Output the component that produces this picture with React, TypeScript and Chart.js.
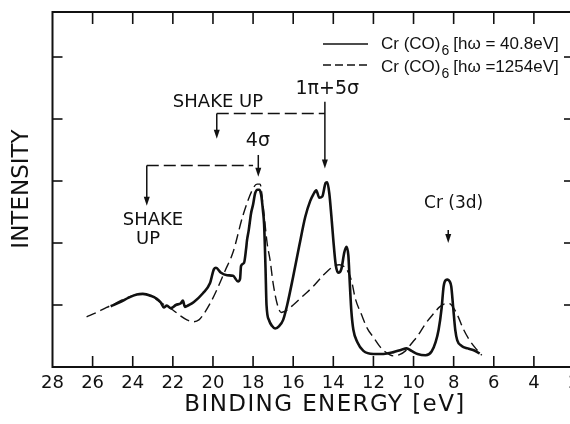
import React, { useEffect, useRef } from "react";
import { Chart, registerables } from "chart.js";

Chart.register(...registerables);

// Binding energy (eV) and intensity (in y-tick units)
const solidEnergy = [
  25.1, 24.6, 24.2, 23.8, 23.5, 23.1, 22.8, 22.6, 22.45, 22.3, 22.1, 21.85, 21.6, 21.5, 21.4, 21.2,
  20.95, 20.5, 20.15, 19.95, 19.85, 19.6, 19.3, 19.0, 18.75, 18.65, 18.6, 18.45, 18.35, 18.3, 18.22,
  18.1, 18.0, 17.9, 17.78, 17.68, 17.6, 17.5, 17.45, 17.38, 17.33, 17.2, 17.05, 16.9, 16.7, 16.5,
  16.3, 16.0, 15.7, 15.4, 15.15, 15.0, 14.85, 14.7, 14.55, 14.38, 14.3, 14.2, 14.1, 14.0, 13.88,
  13.75, 13.6, 13.45, 13.35, 13.25, 13.17, 13.1, 13.0, 12.8, 12.5, 12.0, 11.5, 11.0, 10.6, 10.35,
  10.1, 9.8, 9.4, 9.1, 8.9, 8.75, 8.6, 8.5, 8.4, 8.3, 8.2, 8.12, 8.02, 7.92, 7.82, 7.6, 7.3, 7.0, 6.7,
];
const solidIntensity = [
  0.98, 1.05, 1.12, 1.17, 1.18, 1.15, 1.1, 1.04, 0.96, 0.99, 0.95, 1.0, 1.03, 1.07, 0.97, 1.0,
  1.05, 1.19, 1.35, 1.58, 1.6, 1.52, 1.48, 1.47, 1.38, 1.42, 1.63, 1.68, 1.9, 2.05, 2.2,
  2.48, 2.62, 2.8, 2.86, 2.86, 2.78, 2.5, 2.3, 1.6, 1.0, 0.75, 0.66, 0.62, 0.66, 0.76,
  1.0, 1.46, 1.95, 2.42, 2.68, 2.78, 2.85, 2.73, 2.75, 2.97, 2.98, 2.8, 2.45, 2.05, 1.65,
  1.52, 1.58, 1.85, 1.94, 1.8, 1.3, 0.9, 0.6, 0.4, 0.26, 0.21, 0.21, 0.24, 0.28, 0.3,
  0.26, 0.21, 0.19, 0.25, 0.4, 0.6, 0.95, 1.3, 1.4, 1.41, 1.38, 1.3, 0.95, 0.6, 0.43, 0.34, 0.3, 0.27, 0.22,
];

const dashedEnergy = [
  26.3, 25.8, 25.3, 24.9, 24.4, 23.9, 23.5, 23.1, 22.7, 22.3, 22.0, 21.6, 21.3, 21.0, 20.7, 20.45,
  20.1, 19.8, 19.4, 19.0, 18.5, 18.0, 17.8, 17.65, 17.5, 17.3, 17.15, 17.0, 16.8, 16.6, 16.4, 16.0,
  15.5, 15.0, 14.5, 14.0, 13.7, 13.35, 13.1, 12.9, 12.6, 12.3, 12.0, 11.6, 11.2, 11.0, 10.7, 10.4,
  10.1, 9.8, 9.4, 9.0, 8.7, 8.4, 8.2, 8.0, 7.8, 7.5, 7.2, 6.9, 6.6,
];
const dashedIntensity = [
  0.81, 0.88, 0.96, 1.02, 1.1, 1.16, 1.18, 1.14, 1.06, 0.98, 0.92, 0.82, 0.76, 0.73, 0.76, 0.86,
  1.05, 1.25, 1.55, 1.85, 2.45, 2.88, 2.95, 2.95, 2.6, 2.0, 1.72, 1.35, 1.02, 0.88, 0.9, 1.0,
  1.15, 1.3, 1.48, 1.62, 1.65, 1.58, 1.4, 1.1, 0.85, 0.62, 0.48, 0.3, 0.2, 0.18, 0.2, 0.26,
  0.38, 0.5, 0.7, 0.86, 0.97, 1.02, 1.02, 0.95, 0.83, 0.6, 0.43, 0.3, 0.19,
];

const energyMin = 2;
const energyMax = 28;
const energyStep = 2;
const intensityMax = 5.726;

// annotation layout (data units)
const downArrows = [
  { e: 19.81, from: 4.09, to: 3.68 },
  { e: 14.42, from: 4.28, to: 3.2 },
  { e: 17.74, from: 3.42, to: 3.07 },
  { e: 23.3, from: 3.25, to: 2.6 },
  { e: 8.27, from: 2.21, to: 2.0 },
];
const dashedLeaders = [
  { from: 19.81, to: 14.42, at: 4.09 },
  { from: 23.3, to: 18.0, at: 3.25 },
];
const annotationLabels = [
  { text: "SHAKE UP", e: 19.75, i: 4.27, size: 18 },
  { text: "1\u03c0+5\u03c3", e: 14.3, i: 4.48, size: 19 },
  { text: "4\u03c3", e: 17.76, i: 3.65, size: 19 },
  { text: "SHAKE", e: 22.99, i: 2.37, size: 18 },
  { text: "UP", e: 23.24, i: 2.06, size: 18 },
  { text: "Cr (3d)", e: 8.0, i: 2.63, size: 17 },
];

const legendItems = [
  { label: "[h\u03c9 = 40.8eV]", dashed: false },
  { label: "[h\u03c9 =1254eV]", dashed: true },
];

const INK = "#111";

const decorPlugin = {
  id: "decor",
  afterDraw(chart: any) {
    const { ctx, chartArea: a } = chart;
    const x = chart.scales.x;
    const y = chart.scales.y;
    const line = (x1: number, y1: number, x2: number, y2: number) => {
      ctx.beginPath();
      ctx.moveTo(x1, y1);
      ctx.lineTo(x2, y2);
      ctx.stroke();
    };
    ctx.save();
    ctx.strokeStyle = INK;
    ctx.fillStyle = INK;
    ctx.setLineDash([]);
    // frame
    ctx.lineWidth = 2;
    ctx.strokeRect(a.left, a.top, a.right - a.left, a.bottom - a.top);
    // inward ticks
    ctx.lineWidth = 1.6;
    for (const t of x.ticks) {
      if (t.value <= energyMin || t.value >= energyMax) continue;
      const px = x.getPixelForValue(t.value);
      line(px, a.bottom, px, a.bottom - 11);
      line(px, a.top, px, a.top + 12);
    }
    for (const t of y.ticks) {
      if (t.value <= 0 || Math.abs(t.value - Math.round(t.value)) > 1e-6) continue;
      const py = y.getPixelForValue(t.value);
      line(a.left, py, a.left + 10, py);
      line(a.right, py, a.right - 10, py);
    }

    // axis titles
    ctx.textAlign = "center";
    ctx.textBaseline = "middle";
    (ctx as any).letterSpacing = "1.4px";
    ctx.font = '23px "DejaVu Sans"';
    ctx.fillText("BINDING ENERGY [eV]", 325, 405);
    (ctx as any).letterSpacing = "0px";
    ctx.save();
    ctx.translate(22.5, 189);
    ctx.rotate(-Math.PI / 2);
    ctx.font = '23px "DejaVu Sans"';
    ctx.fillText("INTENSITY", 0, 0);
    ctx.restore();

    // annotations
    ctx.lineWidth = 1.5;
    ctx.setLineDash([12, 5]);
    for (const d of dashedLeaders) {
      const py = y.getPixelForValue(d.at);
      line(x.getPixelForValue(d.from), py, x.getPixelForValue(d.to), py);
    }
    ctx.setLineDash([]);
    for (const ar of downArrows) {
      const px = x.getPixelForValue(ar.e);
      const y1 = y.getPixelForValue(ar.from);
      const y2 = y.getPixelForValue(ar.to);
      line(px, y1, px, y2 - 6);
      ctx.beginPath();
      ctx.moveTo(px, y2);
      ctx.lineTo(px - 3, y2 - 9);
      ctx.lineTo(px + 3, y2 - 9);
      ctx.closePath();
      ctx.fill();
    }
    for (const l of annotationLabels) {
      ctx.font = `${l.size}px "DejaVu Sans"`;
      ctx.fillText(l.text, x.getPixelForValue(l.e), y.getPixelForValue(l.i));
    }

    // legend
    ctx.textAlign = "left";
    const rows = [44, 67];
    legendItems.forEach((it, k) => {
      const ly = rows[k];
      ctx.lineWidth = it.dashed ? 1.5 : 1.6;
      ctx.setLineDash(it.dashed ? [8, 4] : []);
      const sy = ly - (it.dashed ? 2 : 0);
      line(323, sy, 368, sy);
      ctx.setLineDash([]);
      let tx = 381;
      ctx.font = '17px "Liberation Sans"';
      ctx.fillText("Cr (CO)", tx, ly);
      tx += ctx.measureText("Cr (CO)").width + 1;
      ctx.font = '14px "Liberation Sans"';
      ctx.fillText("6", tx, ly + 7);
      tx += ctx.measureText("6").width + 4;
      ctx.font = '17px "Liberation Sans"';
      ctx.fillText(it.label, tx, ly);
    });
    ctx.restore();
  },
};

export default function App() {
  const canvasRef = useRef<HTMLCanvasElement | null>(null);

  useEffect(() => {
    if (!canvasRef.current) return;
    const solid = solidEnergy.map((e, i) => ({ x: e, y: solidIntensity[i] }));
    const dashed = dashedEnergy.map((e, i) => ({ x: e, y: dashedIntensity[i] }));
    const chart = new Chart(canvasRef.current, {
      type: "line",
      data: {
        datasets: [
          {
            label: "Cr(CO)6 [hω = 1254eV]",
            data: dashed,
            borderColor: INK,
            borderWidth: 1.4,
            borderDash: [10, 5],
            pointRadius: 0,
            fill: false,
            cubicInterpolationMode: "monotone",
          },
          {
            label: "Cr(CO)6 [hω = 40.8eV]",
            data: solid,
            borderColor: INK,
            borderWidth: 2.6,
            pointRadius: 0,
            fill: false,
            cubicInterpolationMode: "monotone",
          },
        ],
      },
      options: {
        animation: false,
        responsive: true,
        maintainAspectRatio: false,
        layout: { padding: { top: 12, right: 26, left: 0, bottom: 0 }, autoPadding: false },
        plugins: { legend: { display: false }, tooltip: { enabled: false } },
        scales: {
          x: {
            type: "linear",
            reverse: true,
            min: energyMin,
            max: energyMax,
            grid: { display: false, drawTicks: false },
            border: { display: false },
            ticks: {
              stepSize: energyStep,
              autoSkip: false,
              maxRotation: 0,
              color: INK,
              font: { family: "DejaVu Sans", size: 18 },
              padding: 6,
            },
            afterFit: (s: any) => {
              s.height = 57;
            },
          },
          y: {
            type: "linear",
            min: 0,
            max: intensityMax,
            grid: { display: false, drawTicks: false },
            border: { display: false },
            ticks: { display: false, stepSize: 1 },
            afterFit: (s: any) => {
              s.width = 52.5;
            },
          },
        },
      },
      plugins: [decorPlugin],
    } as any);
    return () => chart.destroy();
  }, []);

  return (
    <div
      style={{
        position: "fixed",
        left: 0,
        top: 0,
        width: 570,
        height: 424,
        overflow: "hidden",
        background: "#fff",
      }}
    >
      <div style={{ position: "absolute", left: 0, top: 0, width: 600, height: 424 }}>
        <canvas ref={canvasRef} />
      </div>
    </div>
  );
}
